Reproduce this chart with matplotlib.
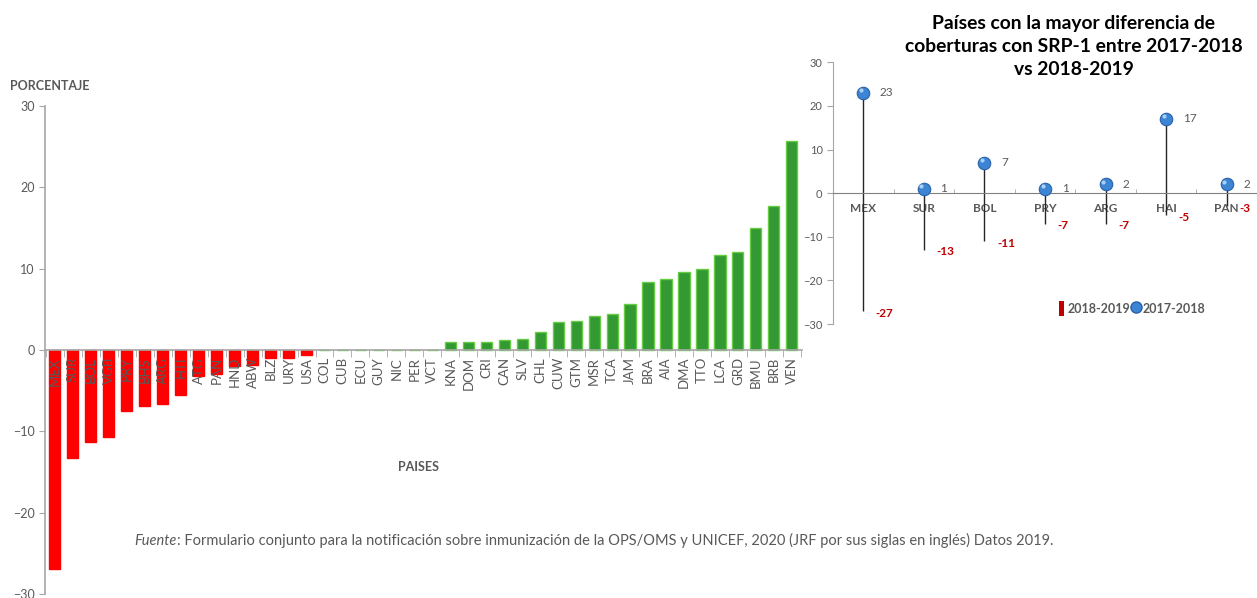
import matplotlib
matplotlib.use('Agg')
import matplotlib.pyplot as plt
from matplotlib.patches import Patch
from matplotlib.lines import Line2D
import numpy as np

plt.rcParams['font.family'] = ['Lato', 'DejaVu Sans']

# main chart data (difference in coverage, %)
paises = ["MEX", "SUR", "BOL", "VGB", "PRY", "BHS", "ARG", "HTI", "ATG", "PAN",
          "HND", "ABW", "BLZ", "URY", "USA", "COL", "CUB", "ECU", "GUY", "NIC",
          "PER", "VCT", "KNA", "DOM", "CRI", "CAN", "SLV", "CHL", "CUW", "GTM",
          "MSR", "TCA", "JAM", "BRA", "AIA", "DMA", "TTO", "LCA", "GRD", "BMU",
          "BRB", "VEN"]
valores = [-26.9, -13.3, -11.3, -10.7, -7.5, -6.9, -6.6, -5.5, -3.2, -3.0,
           -2.0, -1.9, -1.0, -1.0, -0.6, 0, 0, 0, 0, 0,
           0, 0, 1.0, 1.0, 1.0, 1.2, 1.4, 2.2, 3.4, 3.6,
           4.2, 4.4, 5.6, 8.4, 8.7, 9.6, 10.0, 11.7, 12.0, 15.0,
           17.7, 25.7]

# inset data
top_paises = ["MEX", "SUR", "BOL", "PRY", "ARG", "HAI", "PAN"]
cob_2017_2018 = [23, 1, 7, 1, 2, 17, 2]
cob_2018_2019 = [-27, -13, -11, -7, -7, -5, -3]

GRAY = "#595959"
AXIS = "#A6A6A6"

fig = plt.figure(figsize=(12.57, 5.98), dpi=100)
fig.patch.set_facecolor("white")

# ---- main bar chart ----
ax = fig.add_axes([0.0358, 0.0067, 0.602, 0.816])
ax.spines["top"].set_visible(False)
ax.spines["right"].set_visible(False)
ax.spines["left"].set_color(AXIS)
ax.spines["bottom"].set_color(AXIS)
ax.spines["bottom"].set_position(("data", 0))   # must come before tick setup (resets ticks)
ax.spines["left"].set_linewidth(1.2)
ax.spines["bottom"].set_linewidth(1.2)
ax.set_facecolor("none")

x = np.arange(len(paises))
colors = ["#FF0000" if v < 0 else "#339933" for v in valores]
edges = ["#FF0000" if v < 0 else "#66CC44" for v in valores]
ax.bar(x, valores, width=0.62, color=colors, edgecolor=edges, linewidth=1.0, zorder=1)

ax.set_xlim(-0.55, len(paises) - 0.45)
ax.set_ylim(-30, 30)
ax.set_yticks(range(-30, 31, 10))
ax.tick_params(axis="y", colors=AXIS, labelcolor=GRAY, labelsize=9, length=4, direction="out")

ax.set_xticks(x)
ax.set_xticklabels(paises, rotation=90, fontsize=9.5, color=GRAY, va="top")
ax.tick_params(axis="x", which="major", length=0, pad=5)
ax.set_xticks(np.arange(-0.5, len(paises), 1), minor=True)
ax.tick_params(axis="x", which="minor", length=5, color=AXIS, direction="out")

fig.text(0.008, 0.857, "PORCENTAJE", fontsize=9, fontweight="bold", color=GRAY, va="center")
fig.text(0.333, 0.219, "PAISES", fontsize=9, fontweight="bold", color=GRAY, ha="center", va="center")

t1 = fig.text(0.107, 0.095, "Fuente", fontsize=10.5, style="italic", color=GRAY, va="center")
plt.annotate(": Formulario conjunto para la notificación sobre inmunización de la OPS/OMS y UNICEF, 2020 "
             "(JRF por sus siglas en inglés) Datos 2019.",
             xy=(1, 0), xycoords=t1, va="bottom", fontsize=10.5, color=GRAY,
             annotation_clip=False)

# ---- inset lollipop chart ----
ax2 = fig.add_axes([0.6627, 0.458, 0.3373, 0.438])
ax2.spines["top"].set_visible(False)
ax2.spines["right"].set_visible(False)
ax2.spines["left"].set_color(AXIS)
ax2.spines["bottom"].set_color("#808080")
ax2.spines["bottom"].set_position(("data", 0))
ax2.set_facecolor("none")

xi = np.arange(len(top_paises))
lo = np.minimum(cob_2017_2018, cob_2018_2019)
hi = np.maximum(cob_2017_2018, cob_2018_2019)
ax2.vlines(xi, lo, hi, color="#262626", linewidth=1.0, zorder=2)
ax2.plot(xi, cob_2017_2018, linestyle="none", marker="o", markersize=9,
         markerfacecolor="#3C84D4", markeredgecolor="#2A62A8", markeredgewidth=0.8, zorder=3)
# small highlight for the sphere look
ax2.plot(xi - 0.04, np.array(cob_2017_2018) + 0.6, linestyle="none", marker="o", markersize=3,
         markerfacecolor="#A9D0F5", markeredgecolor="none", zorder=4)

for xv, v in zip(xi, cob_2017_2018):
    ax2.annotate(str(v), (xv, v), xytext=(12, 0), textcoords="offset points",
                 fontsize=8.5, color=GRAY, va="center", ha="left")
for xv, v in zip(xi, cob_2018_2019):
    ax2.annotate(str(v), (xv, v), xytext=(9, -1.5), textcoords="offset points",
                 fontsize=8.5, color="#C00000", fontweight="bold", va="center", ha="left")

ax2.set_xlim(-0.5, len(top_paises) - 0.5)
ax2.set_ylim(-30, 30)
ax2.set_yticks(range(-30, 31, 10))
ax2.tick_params(axis="y", colors=AXIS, labelcolor=GRAY, labelsize=8, length=4, direction="out")
ax2.set_xticks(xi)
ax2.set_xticklabels(top_paises, fontsize=8.5, fontweight="bold", color=GRAY)
ax2.tick_params(axis="x", which="major", length=0, pad=7)
ax2.set_xticks(np.arange(-0.5, len(top_paises), 1), minor=True)
ax2.tick_params(axis="x", which="minor", length=3, color=AXIS, direction="in")

handles = [Patch(facecolor="#C00000", edgecolor="none"),
           Line2D([], [], linestyle="none", marker="o", markersize=8,
                  markerfacecolor="#3C84D4", markeredgecolor="#2A62A8")]
leg = ax2.legend(handles, ["2018-2019", "2017-2018"], loc="center", bbox_to_anchor=(0.705, 0.06),
                 ncol=2, frameon=False, handlelength=0.4, handleheight=1.4, handletextpad=0.3,
                 columnspacing=0.3, prop={"weight": "bold", "size": 9})
for t in leg.get_texts():
    t.set_color(GRAY)

fig.text(0.854, 0.922, "Países con la mayor diferencia de\ncoberturas con SRP-1 entre 2017-2018\nvs 2018-2019",
         fontsize=13.9, fontweight="bold", color="black", ha="center", va="center", linespacing=1.45)

fig.savefig("out.png", dpi=100, facecolor="white")
